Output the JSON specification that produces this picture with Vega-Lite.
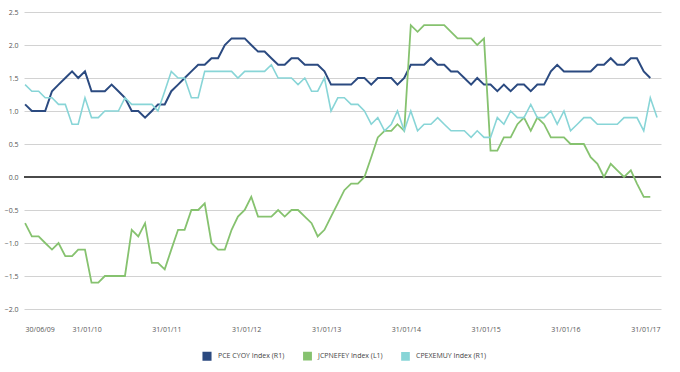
{
  "$schema": "https://vega.github.io/schema/vega-lite/v6.json",
  "width": 637,
  "height": 297,
  "autosize": {"type": "none"},
  "padding": {"left": 24, "top": 12, "right": 19, "bottom": 63},
  "background": "white",
  "config": {
    "view": {"stroke": null},
    "font": "Open Sans",
    "axis": {"labelFont": "Open Sans", "labelFontSize": 7, "labelColor": "#555555"},
    "legend": {"labelFont": "Open Sans"}
  },
  "layer": [
    {
      "data": {"values": [{"k": 0}]},
      "mark": {"type": "rule", "color": "#4a4a4a", "strokeWidth": 2},
      "encoding": {
        "y": {
          "datum": 0,
          "type": "quantitative",
          "title": null,
          "scale": {"domain": [-2, 2.5], "nice": false, "zero": false},
          "axis": {
            "values": [-2, -1.5, -1, -0.5, 0, 0.5, 1, 1.5, 2, 2.5],
            "format": ".1f",
            "ticks": false,
            "domain": false,
            "grid": true,
            "gridColor": "#d2d2d2",
            "gridWidth": 1,
            "labelPadding": 6,
            "labelOverlap": false
          }
        }
      }
    },
    {
      "data": {
        "values": [
          {"d": "2009-06-30", "P": 1.1, "J": -0.7, "C": 1.4},
          {"d": "2009-07-31", "P": 1.0, "J": -0.9, "C": 1.3},
          {"d": "2009-08-31", "P": 1.0, "J": -0.9, "C": 1.3},
          {"d": "2009-09-30", "P": 1.0, "J": -1.0, "C": 1.2},
          {"d": "2009-10-31", "P": 1.3, "J": -1.1, "C": 1.2},
          {"d": "2009-11-30", "P": 1.4, "J": -1.0, "C": 1.1},
          {"d": "2009-12-31", "P": 1.5, "J": -1.2, "C": 1.1},
          {"d": "2010-01-31", "P": 1.6, "J": -1.2, "C": 0.8},
          {"d": "2010-02-28", "P": 1.5, "J": -1.1, "C": 0.8},
          {"d": "2010-03-31", "P": 1.6, "J": -1.1, "C": 1.2},
          {"d": "2010-04-30", "P": 1.3, "J": -1.6, "C": 0.9},
          {"d": "2010-05-31", "P": 1.3, "J": -1.6, "C": 0.9},
          {"d": "2010-06-30", "P": 1.3, "J": -1.5, "C": 1.0},
          {"d": "2010-07-31", "P": 1.4, "J": -1.5, "C": 1.0},
          {"d": "2010-08-31", "P": 1.3, "J": -1.5, "C": 1.0},
          {"d": "2010-09-30", "P": 1.2, "J": -1.5, "C": 1.2},
          {"d": "2010-10-31", "P": 1.0, "J": -0.8, "C": 1.1},
          {"d": "2010-11-30", "P": 1.0, "J": -0.9, "C": 1.1},
          {"d": "2010-12-31", "P": 0.9, "J": -0.7, "C": 1.1},
          {"d": "2011-01-31", "P": 1.0, "J": -1.3, "C": 1.1},
          {"d": "2011-02-28", "P": 1.1, "J": -1.3, "C": 1.0},
          {"d": "2011-03-31", "P": 1.1, "J": -1.4, "C": 1.3},
          {"d": "2011-04-30", "P": 1.3, "J": -1.1, "C": 1.6},
          {"d": "2011-05-31", "P": 1.4, "J": -0.8, "C": 1.5},
          {"d": "2011-06-30", "P": 1.5, "J": -0.8, "C": 1.5},
          {"d": "2011-07-31", "P": 1.6, "J": -0.5, "C": 1.2},
          {"d": "2011-08-31", "P": 1.7, "J": -0.5, "C": 1.2},
          {"d": "2011-09-30", "P": 1.7, "J": -0.4, "C": 1.6},
          {"d": "2011-10-31", "P": 1.8, "J": -1.0, "C": 1.6},
          {"d": "2011-11-30", "P": 1.8, "J": -1.1, "C": 1.6},
          {"d": "2011-12-31", "P": 2.0, "J": -1.1, "C": 1.6},
          {"d": "2012-01-31", "P": 2.1, "J": -0.8, "C": 1.6},
          {"d": "2012-02-29", "P": 2.1, "J": -0.6, "C": 1.5},
          {"d": "2012-03-31", "P": 2.1, "J": -0.5, "C": 1.6},
          {"d": "2012-04-30", "P": 2.0, "J": -0.3, "C": 1.6},
          {"d": "2012-05-31", "P": 1.9, "J": -0.6, "C": 1.6},
          {"d": "2012-06-30", "P": 1.9, "J": -0.6, "C": 1.6},
          {"d": "2012-07-31", "P": 1.8, "J": -0.6, "C": 1.7},
          {"d": "2012-08-31", "P": 1.7, "J": -0.5, "C": 1.5},
          {"d": "2012-09-30", "P": 1.7, "J": -0.6, "C": 1.5},
          {"d": "2012-10-31", "P": 1.8, "J": -0.5, "C": 1.5},
          {"d": "2012-11-30", "P": 1.8, "J": -0.5, "C": 1.4},
          {"d": "2012-12-31", "P": 1.7, "J": -0.6, "C": 1.5},
          {"d": "2013-01-31", "P": 1.7, "J": -0.7, "C": 1.3},
          {"d": "2013-02-28", "P": 1.7, "J": -0.9, "C": 1.3},
          {"d": "2013-03-31", "P": 1.6, "J": -0.8, "C": 1.5},
          {"d": "2013-04-30", "P": 1.4, "J": -0.6, "C": 1.0},
          {"d": "2013-05-31", "P": 1.4, "J": -0.4, "C": 1.2},
          {"d": "2013-06-30", "P": 1.4, "J": -0.2, "C": 1.2},
          {"d": "2013-07-31", "P": 1.4, "J": -0.1, "C": 1.1},
          {"d": "2013-08-31", "P": 1.5, "J": -0.1, "C": 1.1},
          {"d": "2013-09-30", "P": 1.5, "J": 0.0, "C": 1.0},
          {"d": "2013-10-31", "P": 1.4, "J": 0.3, "C": 0.8},
          {"d": "2013-11-30", "P": 1.5, "J": 0.6, "C": 0.9},
          {"d": "2013-12-31", "P": 1.5, "J": 0.7, "C": 0.7},
          {"d": "2014-01-31", "P": 1.5, "J": 0.7, "C": 0.8},
          {"d": "2014-02-28", "P": 1.4, "J": 0.8, "C": 1.0},
          {"d": "2014-03-31", "P": 1.5, "J": 0.7, "C": 0.7},
          {"d": "2014-04-30", "P": 1.7, "J": 2.3, "C": 1.0},
          {"d": "2014-05-31", "P": 1.7, "J": 2.2, "C": 0.7},
          {"d": "2014-06-30", "P": 1.7, "J": 2.3, "C": 0.8},
          {"d": "2014-07-31", "P": 1.8, "J": 2.3, "C": 0.8},
          {"d": "2014-08-31", "P": 1.7, "J": 2.3, "C": 0.9},
          {"d": "2014-09-30", "P": 1.7, "J": 2.3, "C": 0.8},
          {"d": "2014-10-31", "P": 1.6, "J": 2.2, "C": 0.7},
          {"d": "2014-11-30", "P": 1.6, "J": 2.1, "C": 0.7},
          {"d": "2014-12-31", "P": 1.5, "J": 2.1, "C": 0.7},
          {"d": "2015-01-31", "P": 1.4, "J": 2.1, "C": 0.6},
          {"d": "2015-02-28", "P": 1.5, "J": 2.0, "C": 0.7},
          {"d": "2015-03-31", "P": 1.4, "J": 2.1, "C": 0.6},
          {"d": "2015-04-30", "P": 1.4, "J": 0.4, "C": 0.6},
          {"d": "2015-05-31", "P": 1.3, "J": 0.4, "C": 0.9},
          {"d": "2015-06-30", "P": 1.4, "J": 0.6, "C": 0.8},
          {"d": "2015-07-31", "P": 1.3, "J": 0.6, "C": 1.0},
          {"d": "2015-08-31", "P": 1.4, "J": 0.8, "C": 0.9},
          {"d": "2015-09-30", "P": 1.4, "J": 0.9, "C": 0.9},
          {"d": "2015-10-31", "P": 1.3, "J": 0.7, "C": 1.1},
          {"d": "2015-11-30", "P": 1.4, "J": 0.9, "C": 0.9},
          {"d": "2015-12-31", "P": 1.4, "J": 0.8, "C": 0.9},
          {"d": "2016-01-31", "P": 1.6, "J": 0.6, "C": 1.0},
          {"d": "2016-02-29", "P": 1.7, "J": 0.6, "C": 0.8},
          {"d": "2016-03-31", "P": 1.6, "J": 0.6, "C": 1.0},
          {"d": "2016-04-30", "P": 1.6, "J": 0.5, "C": 0.7},
          {"d": "2016-05-31", "P": 1.6, "J": 0.5, "C": 0.8},
          {"d": "2016-06-30", "P": 1.6, "J": 0.5, "C": 0.9},
          {"d": "2016-07-31", "P": 1.6, "J": 0.3, "C": 0.9},
          {"d": "2016-08-31", "P": 1.7, "J": 0.2, "C": 0.8},
          {"d": "2016-09-30", "P": 1.7, "J": 0.0, "C": 0.8},
          {"d": "2016-10-31", "P": 1.8, "J": 0.2, "C": 0.8},
          {"d": "2016-11-30", "P": 1.7, "J": 0.1, "C": 0.8},
          {"d": "2016-12-31", "P": 1.7, "J": 0.0, "C": 0.9},
          {"d": "2017-01-31", "P": 1.8, "J": 0.1, "C": 0.9},
          {"d": "2017-02-28", "P": 1.8, "J": -0.1, "C": 0.9},
          {"d": "2017-03-31", "P": 1.6, "J": -0.3, "C": 0.7},
          {"d": "2017-04-30", "P": 1.5, "J": -0.3, "C": 1.2},
          {"d": "2017-05-31", "P": null, "J": null, "C": 0.9}
        ]
      },
      "transform": [{"fold": ["P", "J", "C"], "as": ["s", "v"]}],
      "mark": {"type": "line", "interpolate": "linear"},
      "encoding": {
        "x": {
          "field": "d",
          "type": "temporal",
          "title": null,
          "scale": {
            "type": "utc",
            "domain": [
              {"year": 2009, "month": 6, "date": 25, "utc": true},
              {"year": 2017, "month": 6, "date": 18, "utc": true}
            ]
          },
          "axis": {
            "values": [
              {"year": 2009, "month": 6, "date": 30, "utc": true},
              {"year": 2010, "month": 1, "date": 31, "utc": true},
              {"year": 2011, "month": 1, "date": 31, "utc": true},
              {"year": 2012, "month": 1, "date": 31, "utc": true},
              {"year": 2013, "month": 1, "date": 31, "utc": true},
              {"year": 2014, "month": 1, "date": 31, "utc": true},
              {"year": 2015, "month": 1, "date": 31, "utc": true},
              {"year": 2016, "month": 1, "date": 31, "utc": true},
              {"year": 2017, "month": 1, "date": 31, "utc": true}
            ],
            "labelExpr": "utcFormat(datum.value, '%d/%m/%y')",
            "labelAlign": "left",
            "labelFlush": false,
            "labelOverlap": false,
            "labelPadding": 16,
            "ticks": false,
            "domain": false,
            "grid": false
          }
        },
        "y": {
          "field": "v",
          "type": "quantitative",
          "title": null,
          "scale": {"domain": [-2, 2.5], "nice": false, "zero": false},
          "axis": {
            "values": [-2, -1.5, -1, -0.5, 0, 0.5, 1, 1.5, 2, 2.5],
            "format": ".1f",
            "ticks": false,
            "domain": false,
            "grid": true,
            "gridColor": "#d2d2d2",
            "gridWidth": 1,
            "labelPadding": 6,
            "labelOverlap": false
          }
        },
        "color": {
          "field": "s",
          "type": "nominal",
          "scale": {"domain": ["P", "J", "C"], "range": ["#2b4a80", "#86c26f", "#88d5d7"]},
          "legend": {
            "orient": "none",
            "legendX": 178,
            "legendY": 339,
            "direction": "horizontal",
            "title": null,
            "padding": 0,
            "symbolType": "square",
            "symbolSize": 50,
            "symbolStrokeWidth": 0,
            "labelFontSize": 7,
            "labelColor": "#444444",
            "labelOffset": 6,
            "columnPadding": 15,
            "labelExpr": "datum.value == 'P' ? 'PCE CYOY Index (R1)' : datum.value == 'J' ? 'JCPNEFEY Index (L1)' : 'CPEXEMUY Index (R1)'",
            "encode": {
              "symbols": {
                "update": {
                  "fill": {"scale": "color", "field": "value"},
                  "opacity": {"value": 1}
                }
              }
            }
          }
        },
        "strokeWidth": {
          "field": "s",
          "type": "nominal",
          "scale": {"domain": ["P", "J", "C"], "range": [2, 1.6, 1.6]},
          "legend": null
        }
      }
    }
  ]
}
